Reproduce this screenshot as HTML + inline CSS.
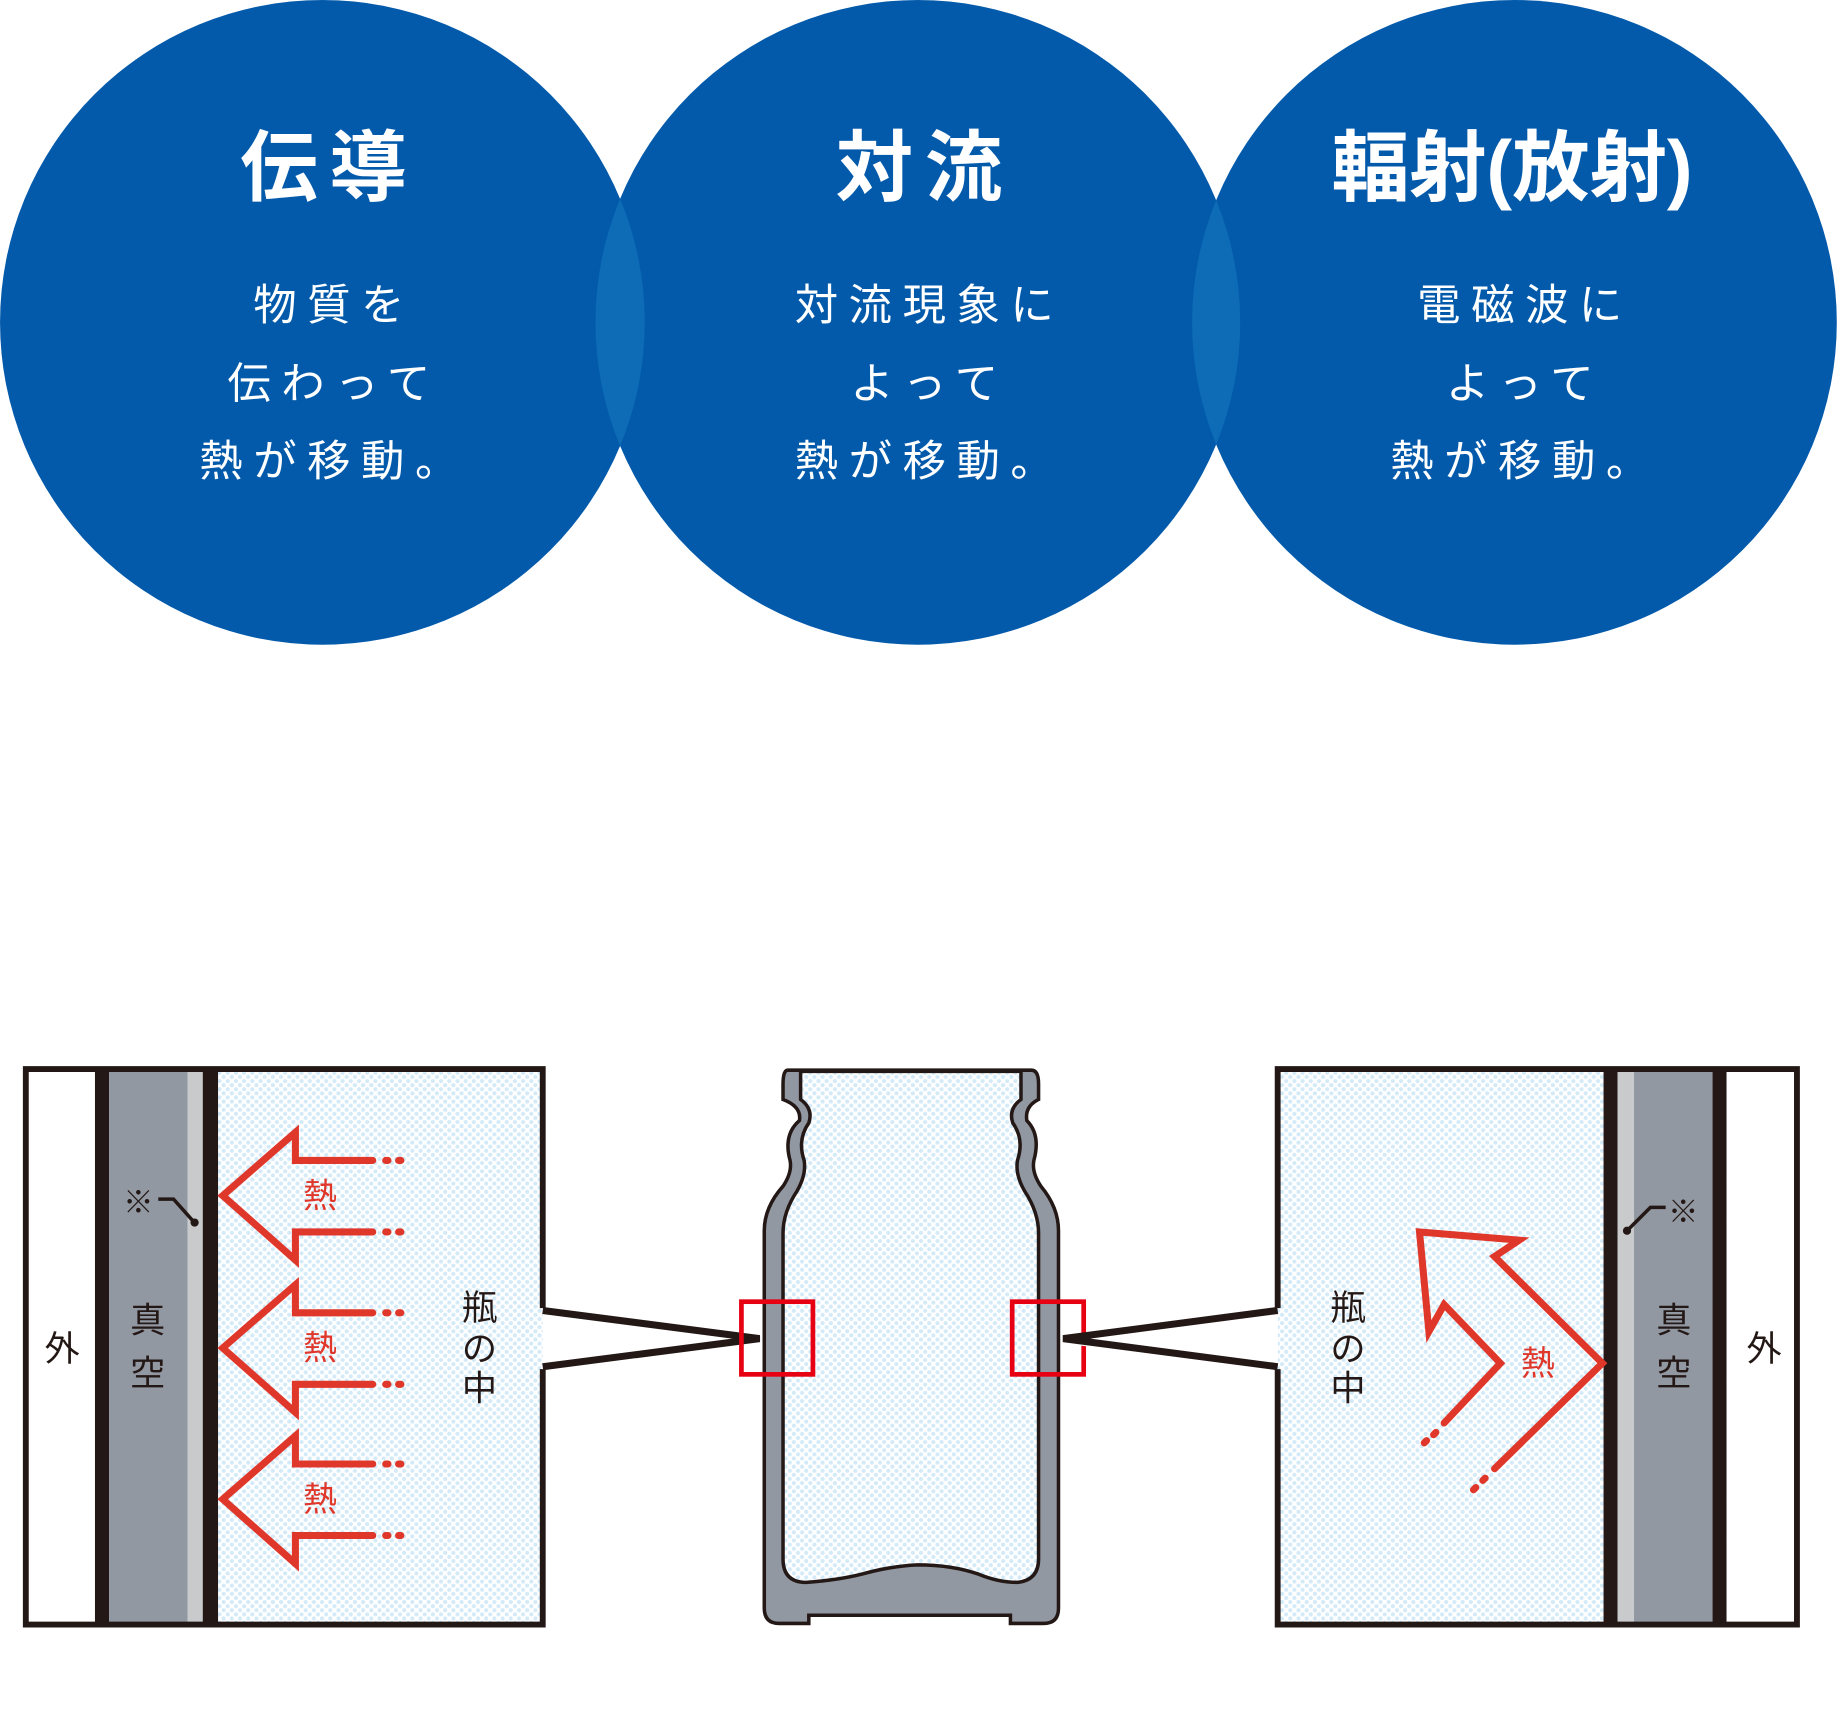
<!DOCTYPE html>
<html><head><meta charset="utf-8"><style>
html,body{margin:0;padding:0;background:#fff}
svg{display:block}
text{font-family:"Liberation Sans","Noto Sans CJK JP",sans-serif}
</style></head><body>
<svg width="1838" height="1728" viewBox="0 0 1568 1474.2" xmlns="http://www.w3.org/2000/svg">
<defs>
<pattern id="dots" width="7" height="7" patternUnits="userSpaceOnUse">
<rect width="7" height="7" fill="#fff"/>
<circle cx="1.75" cy="1.75" r="1.8" fill="#d3eaf8"/>
<circle cx="5.25" cy="5.25" r="1.8" fill="#d3eaf8"/>
</pattern>
<clipPath id="c1"><circle cx="275" cy="275" r="275"/></clipPath>
<clipPath id="c2"><circle cx="783" cy="275" r="275"/></clipPath>
</defs>
<circle cx="275" cy="275" r="275" fill="#035aab"/>
<circle cx="783" cy="275" r="275" fill="#035aab"/>
<circle cx="1292" cy="275" r="275" fill="#035aab"/>
<circle cx="783" cy="275" r="275" fill="#0e6cb6" clip-path="url(#c1)"/>
<circle cx="1292" cy="275" r="275" fill="#0e6cb6" clip-path="url(#c2)"/>
<g fill="#fff" text-anchor="middle" font-weight="bold" font-size="66">
<text x="281" y="166" letter-spacing="10">伝導</text>
<text x="789" y="166" letter-spacing="10">対流</text>
<text x="1290" y="166">輻射(放射)</text>
</g>
<g fill="#fff" text-anchor="middle" font-size="37" letter-spacing="9">
<text x="285" y="273">物質を</text>
<text x="285" y="340">伝わって</text>
<text x="285" y="406">熱が移動。</text>
<text x="793" y="273">対流現象に</text>
<text x="793" y="340">よって</text>
<text x="793" y="406">熱が移動。</text>
<text x="1301" y="273">電磁波に</text>
<text x="1301" y="340">よって</text>
<text x="1301" y="406">熱が移動。</text>
</g>

<!-- left panel -->
<rect x="22" y="912" width="441" height="474" fill="url(#dots)"/>
<rect x="22" y="912" width="60" height="474" fill="#fff"/>
<rect x="81" y="912" width="12" height="474" fill="#231815"/>
<rect x="93" y="912" width="67" height="474" fill="#9298a2"/>
<rect x="160" y="912" width="14" height="474" fill="#c8cacb"/>
<rect x="173" y="912" width="13" height="474" fill="#231815"/>
<path d="M463,1116 L463,912 L22,912 L22,1386 L463,1386 L463,1168" fill="none" stroke="#231815" stroke-width="5"/>
<polygon points="463,1116 650,1140 650,1146 463,1168" fill="#fff"/>
<polyline points="463,1118 648,1142 463,1166" fill="none" stroke="#231815" stroke-width="6" stroke-linejoin="miter"/>
<g fill="none" stroke="#e0372b" stroke-width="6" stroke-linecap="round">
<g id="la">
<polyline points="318,990 252,990 252,966 190,1020 252,1075 252,1051 318,1051" stroke-linejoin="miter"/>
<line x1="329" y1="990" x2="331" y2="990"/><line x1="340" y1="990" x2="342" y2="990"/>
<line x1="329" y1="1051" x2="331" y2="1051"/><line x1="340" y1="1051" x2="342" y2="1051"/>
</g>
<use href="#la" y="130"/>
<use href="#la" y="259"/>
</g>
<g fill="#e0372b" font-size="29" text-anchor="middle">
<text x="273" y="1030">熱</text>
<text x="273" y="1160">熱</text>
<text x="273" y="1289">熱</text>
</g>

<!-- bottle -->
<path d="M672,913 Q668,913 668,925 L668,938 Q684,944 682,956 Q668,968 674,990 Q676,1000 668,1012 Q652,1030 652,1050 L652,1372 Q652,1385 665,1385 L690,1385 L690,1378 L862,1378 L862,1385 L890,1385 Q903,1385 903,1372 L903,1050 Q903,1030 888,1012 Q880,1000 882,990 Q888,968 876,956 Q874,944 886,938 L886,925 Q886,913 880,913 Z" fill="#9298a2" stroke="#231815" stroke-width="3"/>
<path d="M683,914 L683,938 Q694,946 690,958 Q680,972 686,990 Q688,1002 680,1016 Q668,1034 668,1052 L668,1330 Q668,1350 688,1350 Q715,1348 735,1343 Q760,1336 783,1335 Q812,1335 835,1343 Q852,1350 868,1350 Q886,1348 886,1330 L886,1052 Q886,1034 874,1016 Q866,1002 868,990 Q874,972 864,958 Q860,946 871,938 L871,914 Z" fill="url(#dots)" stroke="#231815" stroke-width="3"/>
<rect x="632.5" y="1110.5" width="61" height="62" fill="none" stroke="#e60012" stroke-width="4"/>
<rect x="863.5" y="1110.5" width="61" height="62" fill="none" stroke="#e60012" stroke-width="4"/>

<!-- right panel -->
<rect x="1090" y="912" width="443" height="474" fill="url(#dots)"/>
<rect x="1368" y="912" width="12" height="474" fill="#231815"/>
<rect x="1380" y="912" width="14" height="474" fill="#c8cacb"/>
<rect x="1394" y="912" width="67" height="474" fill="#9298a2"/>
<rect x="1461" y="912" width="12" height="474" fill="#231815"/>
<rect x="1473" y="912" width="60" height="474" fill="#fff"/>
<path d="M1090,1116 L1090,912 L1533,912 L1533,1386 L1090,1386 L1090,1168" fill="none" stroke="#231815" stroke-width="5"/>
<polygon points="1090,1116 905,1140 905,1146 1090,1168" fill="#fff"/>
<polyline points="1090,1118 907,1142 1090,1166" fill="none" stroke="#231815" stroke-width="6"/>
<g fill="none" stroke="#e0372b" stroke-width="6" stroke-linecap="round">
<polyline points="1275,1253 1367,1163 1275,1072 1296,1058 1211,1051 1219,1136 1232,1113 1280,1163 1232,1214" stroke-linejoin="miter"/>
<line x1="1267" y1="1261" x2="1265" y2="1263"/><line x1="1259" y1="1269" x2="1257" y2="1271"/>
<line x1="1225" y1="1222" x2="1223" y2="1224"/><line x1="1217" y1="1229" x2="1215" y2="1231"/>
</g>
<text x="1312" y="1173" fill="#e0372b" font-size="29" text-anchor="middle">熱</text>

<!-- labels -->
<g fill="#231815" font-size="30" text-anchor="middle">
<text x="53" y="1161">外</text>
<text x="126" y="1137">真</text>
<text x="126" y="1182">空</text>
<text x="409" y="1126">瓶</text>
<text x="409" y="1161">の</text>
<text x="409" y="1195">中</text>
<text x="1150" y="1126">瓶</text>
<text x="1150" y="1161">の</text>
<text x="1150" y="1195">中</text>
<text x="1428" y="1137">真</text>
<text x="1428" y="1182">空</text>
<text x="1505" y="1161">外</text>
<text x="118" y="1035" font-size="26">※</text>
<text x="1436" y="1043" font-size="26">※</text>
</g>
<polyline points="135,1023 148,1023 165,1042" fill="none" stroke="#231815" stroke-width="3"/>
<circle cx="166" cy="1043" r="3.5" fill="#231815"/>
<polyline points="1421,1030 1408,1030 1389,1049" fill="none" stroke="#231815" stroke-width="3"/>
<circle cx="1388" cy="1050" r="3.5" fill="#231815"/>
</svg>
</body></html>
